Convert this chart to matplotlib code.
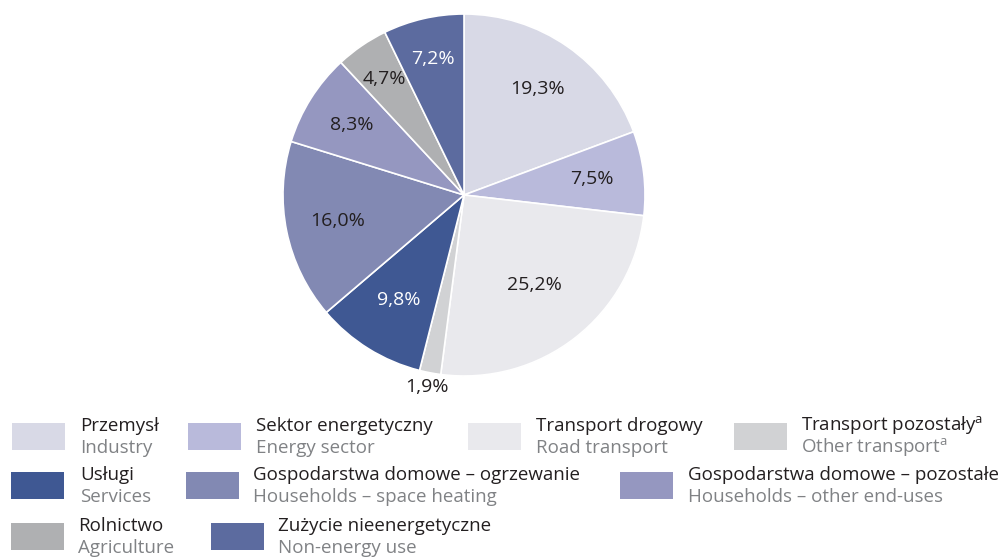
import numpy as np
import matplotlib
matplotlib.use('Agg')
import matplotlib.pyplot as plt
from matplotlib.patches import Rectangle

plt.rcParams['font.family'] = ['Open Sans', 'DejaVu Sans']
plt.rcParams['mathtext.fontset'] = 'custom'
plt.rcParams['mathtext.rm'] = 'Open Sans'

# data
labels_pl = ['Przemysł', 'Sektor energetyczny', 'Transport drogowy', 'Transport pozostały$^{\\mathrm{a}}$',
             'Usługi', 'Gospodarstwa domowe – ogrzewanie', 'Gospodarstwa domowe – pozostałe',
             'Rolnictwo', 'Zużycie nieenergetyczne']
labels_en = ['Industry', 'Energy sector', 'Road transport', 'Other transport$^{\\mathrm{a}}$',
             'Services', 'Households – space heating', 'Households – other end-uses',
             'Agriculture', 'Non-energy use']
shares = [19.3, 7.5, 25.2, 1.9, 9.8, 16.0, 8.3, 4.7, 7.2]

colors = ['#d8d9e6', '#b9badb', '#e9e9ed', '#d1d2d4', '#3f5893',
          '#8289b3', '#9597c0', '#afb0b2', '#5c6b9f']
label_r = [0.71, 0.71, 0.63, 1.08, 0.68, 0.71, 0.73, 0.78, 0.77]
label_col = ['#231f20'] * 9
label_col[4] = 'white'
label_col[8] = 'white'

W, H = 1008, 558
fig = plt.figure(figsize=(W / 100, H / 100), dpi=100)
ax = fig.add_axes([0, 0, 1, 1])

cx, cy, R = 464, 195, 181
wedges, _ = ax.pie(shares, colors=colors, startangle=-90, counterclock=True,
                   center=(cx, cy), radius=R,
                   wedgeprops=dict(edgecolor='white', linewidth=1.2))
ax.set_xlim(0, W)
ax.set_ylim(H, 0)
ax.set_aspect('equal')
ax.axis('off')

for w, v, r, c in zip(wedges, shares, label_r, label_col):
    a = np.deg2rad((w.theta1 + w.theta2) / 2)
    ax.text(cx + R * r * np.cos(a), cy + R * r * np.sin(a),
            ('%.1f%%' % v).replace('.', ','), ha='center', va='center',
            fontsize=14, color=c)

# legend (layout: row y, patch x, text x)
leg_pos = [(423, 12, 80), (423, 188, 256), (423, 468, 536), (423, 734, 801),
           (472, 11, 80), (472, 186, 253), (472, 620, 688),
           (523, 11, 78), (523, 211, 278)]
for i, (y, px, tx) in enumerate(leg_pos):
    ax.add_patch(Rectangle((px, y), 53, 27, facecolor=colors[i], edgecolor='none'))
    ax.text(tx, y + 3, labels_pl[i], ha='left', va='center', fontsize=13.5, color='#231f20')
    ax.text(tx, y + 25, labels_en[i], ha='left', va='center', fontsize=13.5, color='#808285')

fig.savefig('out.png', dpi=100)
